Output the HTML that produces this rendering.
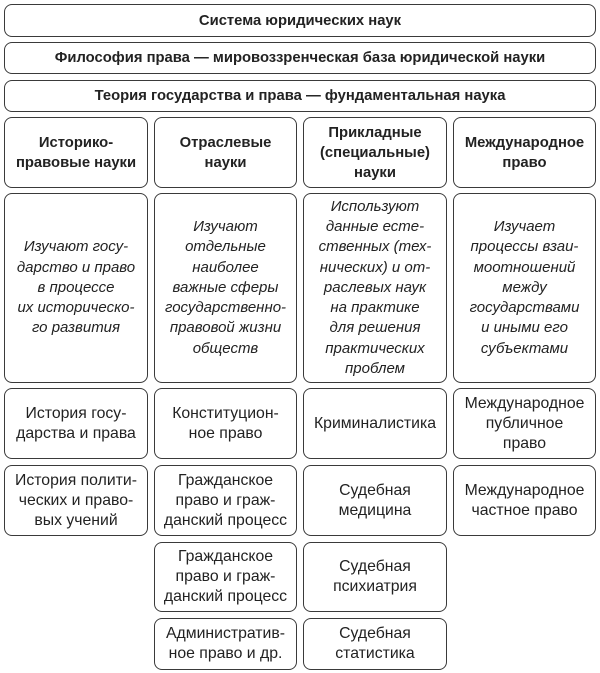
<!DOCTYPE html>
<html><head><meta charset="utf-8"><style>
body{margin:0;width:600px;height:673px;background:#fff;font-family:"Liberation Sans","DejaVu Sans",sans-serif;color:#222;position:relative;overflow:hidden}
.b{position:absolute;box-sizing:border-box;border:1.6px solid #3a3a3a;border-radius:8px;display:flex;align-items:center;justify-content:center;text-align:center;font-size:15.8px;line-height:20px}
.h{font-weight:bold;font-size:14.8px}
.i{font-style:italic;font-size:15px;line-height:20.3px}
</style></head><body>
<div class="b h" style="left:4px;top:4px;width:592px;height:33px">Система юридических наук</div>
<div class="b h" style="left:4px;top:42px;width:592px;height:32px">Философия права — мировоззренческая база юридической науки</div>
<div class="b h" style="left:4px;top:80px;width:592px;height:32px">Теория государства и права — фундаментальная наука</div>

<div class="b h" style="left:4px;top:117px;width:144px;height:71px">Историко-<br>правовые науки</div>
<div class="b h" style="left:154px;top:117px;width:143px;height:71px">Отраслевые<br>науки</div>
<div class="b h" style="left:303px;top:117px;width:144px;height:71px">Прикладные<br>(специальные)<br>науки</div>
<div class="b h" style="left:453px;top:117px;width:143px;height:71px">Международное<br>право</div>

<div class="b i" style="left:4px;top:193px;width:144px;height:190px">Изучают госу-<br>дарство и право<br>в процессе<br>их историческо-<br>го развития</div>
<div class="b i" style="left:154px;top:193px;width:143px;height:190px">Изучают<br>отдельные<br>наиболее<br>важные сферы<br>государственно-<br>правовой жизни<br>обществ</div>
<div class="b i" style="left:303px;top:193px;width:144px;height:190px">Используют<br>данные есте-<br>ственных (тех-<br>нических) и от-<br>раслевых наук<br>на практике<br>для решения<br>практических<br>проблем</div>
<div class="b i" style="left:453px;top:193px;width:143px;height:190px">Изучает<br>процессы взаи-<br>моотношений<br>между<br>государствами<br>и иными его<br>субъектами</div>

<div class="b" style="left:4px;top:388px;width:144px;height:71px">История госу-<br>дарства и права</div>
<div class="b" style="left:154px;top:388px;width:143px;height:71px">Конституцион-<br>ное право</div>
<div class="b" style="left:303px;top:388px;width:144px;height:71px">Криминалистика</div>
<div class="b" style="left:453px;top:388px;width:143px;height:71px">Международное<br>публичное<br>право</div>

<div class="b" style="left:4px;top:465px;width:144px;height:71px">История полити-<br>ческих и право-<br>вых учений</div>
<div class="b" style="left:154px;top:465px;width:143px;height:71px">Гражданское<br>право и граж-<br>данский процесс</div>
<div class="b" style="left:303px;top:465px;width:144px;height:71px">Судебная<br>медицина</div>
<div class="b" style="left:453px;top:465px;width:143px;height:71px">Международное<br>частное право</div>

<div class="b" style="left:154px;top:542px;width:143px;height:70px">Гражданское<br>право и граж-<br>данский процесс</div>
<div class="b" style="left:303px;top:542px;width:144px;height:70px">Судебная<br>психиатрия</div>

<div class="b" style="left:154px;top:618px;width:143px;height:52px">Административ-<br>ное право и др.</div>
<div class="b" style="left:303px;top:618px;width:144px;height:52px">Судебная<br>статистика</div>
</body></html>
